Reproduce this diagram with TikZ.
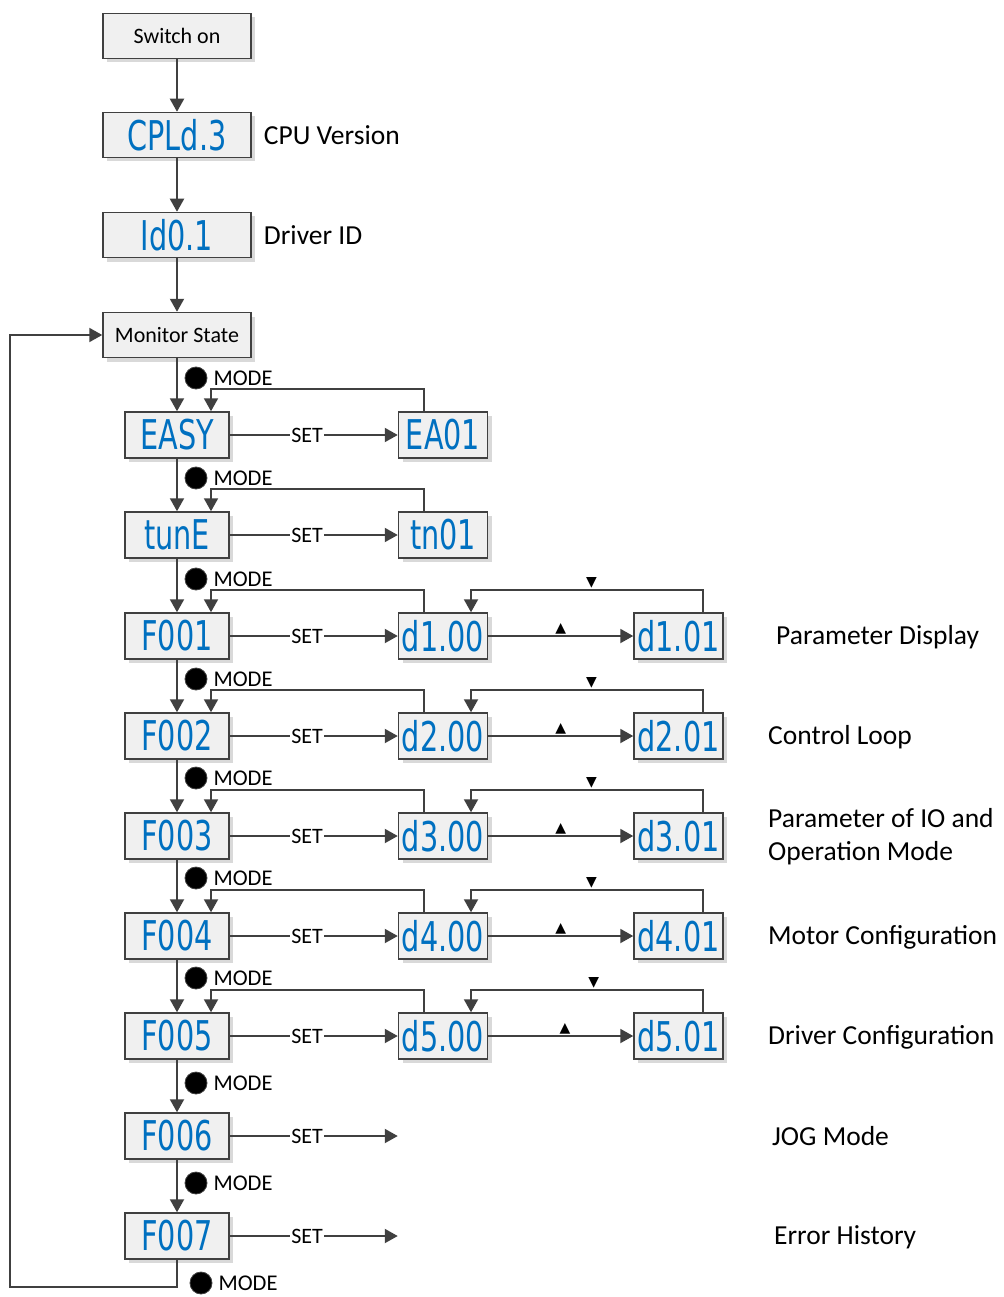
\documentclass[tikz,border=0pt]{standalone}
\usepackage{fontspec}
\setmainfont{Carlito}
\newfontfamily\segfont[FakeStretch=0.7]{DejaVu Sans}
\newfontfamily\symfont{DejaVu Sans}
\usetikzlibrary{positioning,arrows.meta,shadows}
\definecolor{lcdblue}{RGB}{0,112,192}
\definecolor{wiregray}{RGB}{64,64,64}
\definecolor{panelgray}{RGB}{240,240,240}

\begin{document}
\begin{tikzpicture}[x=1pt, y=-1pt,
  dispbox/.style={draw=wiregray, line width=1.5pt, fill=panelgray, drop shadow={shadow xshift=4pt, shadow yshift=-4pt, fill=black!15, opacity=1}, minimum height=46pt, inner sep=0pt, font=\segfont\fontsize{41}{41}\selectfont, text=lcdblue},
  topbox/.style={dispbox, minimum width=148pt, minimum height=45pt},
  tagbox/.style={topbox, font=\fontsize{22}{26}\selectfont, text=black},
  fbox/.style={dispbox, minimum width=104pt},
  dbox/.style={dispbox, minimum width=89pt},
  flow/.style={draw=wiregray, line width=2pt, -{Triangle[length=13pt, width=14pt]}},
  setlbl/.style={fill=white, inner sep=1pt, font=\fontsize{22}{26}\selectfont},
  modedot/.style={circle, fill=black, draw=wiregray, line width=0.8pt, minimum size=22pt, inner sep=0pt},
  modetxt/.style={inner sep=1pt, font=\fontsize{22.5}{26}\selectfont},
  tri/.style={above=1pt, inner sep=0pt, font=\symfont\fontsize{14}{14}\selectfont},
  lbl/.style={inner sep=1pt, anchor=west, align=left, font=\fontsize{27.5}{33}\selectfont},
]
\path[use as bounding box, fill=white] (0,0) rectangle (1003,1297);

% start-up sequence
\node[tagbox] (sw) at (177,36) {Switch on};
\node[topbox] (cpld) at (177,135) {CPLd.3};
\node[topbox] (id) at (177,235) {Id0.1};
\node[tagbox] (mon) at (177,335) {Monitor State};
\node[lbl, right=11pt of cpld] (cpu) {CPU Version};
\node[lbl, right=11pt of id] (drv) {Driver ID};
\draw[flow] (sw) -- (cpld);
\draw[flow] (cpld) -- (id);
\draw[flow] (id) -- (mon);

% function menu
\node[fbox] (easy) at (177,435) {EASY};
\node[fbox] (tune) at (177,535) {tunE};
\node[fbox] (f1) at (177,636) {F001};
\node[fbox] (f2) at (177,736) {F002};
\node[fbox] (f3) at (177,836) {F003};
\node[fbox] (f4) at (177,936) {F004};
\node[fbox] (f5) at (177,1036) {F005};
\node[fbox] (f6) at (177,1136) {F006};
\node[fbox] (f7) at (177,1236) {F007};

% sub menus
\node[dbox, right=168pt of easy] (ea01) {EA01};
\node[dbox, right=168pt of tune] (tn01) {tn01};
\node[dbox, right=168pt of f1] (d1a) {d1.00};
\node[dbox, right=145pt of d1a] (d1b) {d1.01};
\node[dbox, right=168pt of f2] (d2a) {d2.00};
\node[dbox, right=145pt of d2a] (d2b) {d2.01};
\node[dbox, right=168pt of f3] (d3a) {d3.00};
\node[dbox, right=145pt of d3a] (d3b) {d3.01};
\node[dbox, right=168pt of f4] (d4a) {d4.00};
\node[dbox, right=145pt of d4a] (d4b) {d4.01};
\node[dbox, right=168pt of f5] (d5a) {d5.00};
\node[dbox, right=145pt of d5a] (d5b) {d5.01};
\coordinate[right=168pt of f6] (f6end);
\coordinate[right=168pt of f7] (f7end);

% MODE buttons
\node[modedot] (m1) at (196,378) {};
\node[modetxt, right=5pt of m1] (mt1) {MODE};
\node[modedot] (m2) at (196,478) {};
\node[modetxt, right=5pt of m2] (mt2) {MODE};
\node[modedot] (m3) at (196,579) {};
\node[modetxt, right=5pt of m3] (mt3) {MODE};
\node[modedot] (m4) at (196,679) {};
\node[modetxt, right=5pt of m4] (mt4) {MODE};
\node[modedot] (m5) at (196,778) {};
\node[modetxt, right=5pt of m5] (mt5) {MODE};
\node[modedot] (m6) at (196,878) {};
\node[modetxt, right=5pt of m6] (mt6) {MODE};
\node[modedot] (m7) at (196,978) {};
\node[modetxt, right=5pt of m7] (mt7) {MODE};
\node[modedot] (m8) at (196,1083) {};
\node[modetxt, right=5pt of m8] (mt8) {MODE};
\node[modedot] (m9) at (196,1183) {};
\node[modetxt, right=5pt of m9] (mt9) {MODE};
\node[modedot] (m10) at (201,1283) {};
\node[modetxt, right=5pt of m10] (mt10) {MODE};

% main column
\draw[flow] (mon) -- (easy);
\draw[flow] (easy) -- (tune);
\draw[flow] (tune) -- (f1);
\draw[flow] (f1) -- (f2);
\draw[flow] (f2) -- (f3);
\draw[flow] (f3) -- (f4);
\draw[flow] (f4) -- (f5);
\draw[flow] (f5) -- (f6);
\draw[flow] (f6) -- (f7);
\coordinate (loopc) at (10,1287);
\draw[flow] (f7.south) |- (loopc) |- (mon.west);

% SET
\draw[flow] (easy) -- node[setlbl, pos=0.46] (s1) {SET} (ea01);
\draw[flow] (tune) -- node[setlbl, pos=0.46] (s2) {SET} (tn01);
\draw[flow] (f1) -- node[setlbl, pos=0.46] (s3) {SET} (d1a);
\draw[flow] (f2) -- node[setlbl, pos=0.46] (s4) {SET} (d2a);
\draw[flow] (f3) -- node[setlbl, pos=0.46] (s5) {SET} (d3a);
\draw[flow] (f4) -- node[setlbl, pos=0.46] (s6) {SET} (d4a);
\draw[flow] (f5) -- node[setlbl, pos=0.46] (s7) {SET} (d5a);
\draw[flow] (f6) -- node[setlbl, pos=0.46] (s8) {SET} (f6end);
\draw[flow] (f7) -- node[setlbl, pos=0.46] (s9) {SET} (f7end);

% back to the menu
\draw[flow] ([xshift=-19pt]ea01.north) -- ++(0,-22) -| ([xshift=34pt]easy.north);
\draw[flow] ([xshift=-19pt]tn01.north) -- ++(0,-22) -| ([xshift=34pt]tune.north);
\draw[flow] ([xshift=-19pt]d1a.north) -- ++(0,-22) -| ([xshift=34pt]f1.north);
\draw[flow] ([xshift=-19pt]d2a.north) -- ++(0,-22) -| ([xshift=34pt]f2.north);
\draw[flow] ([xshift=-19pt]d3a.north) -- ++(0,-22) -| ([xshift=34pt]f3.north);
\draw[flow] ([xshift=-19pt]d4a.north) -- ++(0,-22) -| ([xshift=34pt]f4.north);
\draw[flow] ([xshift=-19pt]d5a.north) -- ++(0,-22) -| ([xshift=34pt]f5.north);

% up / down
\draw[flow] (d1a) -- node[tri] (u1) {▲} (d1b);
\draw[flow] (d2a) -- node[tri] (u2) {▲} (d2b);
\draw[flow] (d3a) -- node[tri] (u3) {▲} (d3b);
\draw[flow] (d4a) -- node[tri] (u4) {▲} (d4b);
\draw[flow] (d5a) -- node[tri, pos=0.53] (u5) {▲} (d5b);
\draw[flow] ([xshift=24pt]d1b.north) -- ++(0,-22) -| node[tri, pos=0.24] (v1) {▼} ([xshift=28pt]d1a.north);
\draw[flow] ([xshift=24pt]d2b.north) -- ++(0,-22) -| node[tri, pos=0.24] (v2) {▼} ([xshift=28pt]d2a.north);
\draw[flow] ([xshift=24pt]d3b.north) -- ++(0,-22) -| node[tri, pos=0.24] (v3) {▼} ([xshift=28pt]d3a.north);
\draw[flow] ([xshift=24pt]d4b.north) -- ++(0,-22) -| node[tri, pos=0.24] (v4) {▼} ([xshift=28pt]d4a.north);
\draw[flow] ([xshift=24pt]d5b.north) -- ++(0,-22) -| node[tri, pos=0.235] (v5) {▼} ([xshift=28pt]d5a.north);

% descriptions
\node[lbl] (p1) at (775,637) {Parameter Display};
\node[lbl] (p2) at (767,737) {Control Loop};
\node[lbl] (p3) at (767,837) {Parameter of IO and\\Operation Mode};
\node[lbl] (p4) at (767,937) {Motor Configuration};
\node[lbl] (p5) at (767,1037) {Driver Configuration};
\node[lbl] (p6) at (771,1136) {JOG Mode};
\node[lbl] (p7) at (773,1237) {Error History};
\end{tikzpicture}
\end{document}
